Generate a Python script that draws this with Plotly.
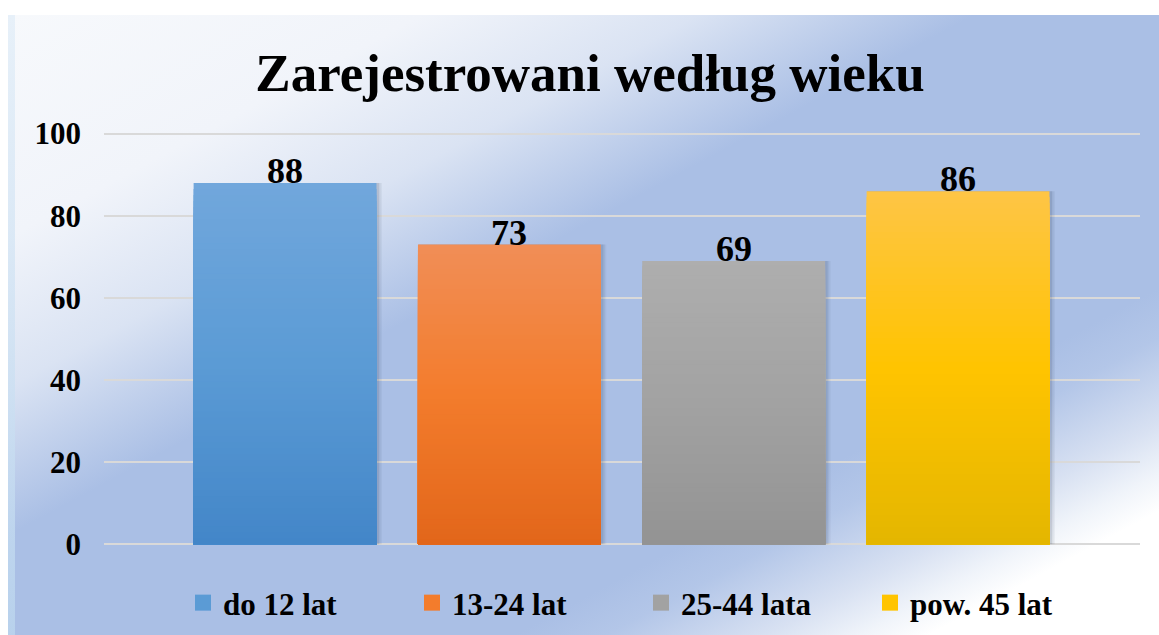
import base64
import plotly.graph_objects as go

# ---- data ----
categories = ["do 12 lat", "13-24 lat", "25-44 lata", "pow. 45 lat"]
values = [88, 73, 69, 86]
y_ticks = [0, 20, 40, 60, 80, 100]
title_text = "Zarejestrowani według wieku"

# per-bar vertical gradient: top, middle, bottom
top_colors = ["#71A7DC", "#F18E57", "#AEAEAE", "#FEC546"]
mid_colors = ["#5B9BD5", "#F37C2C", "#A2A2A2", "#FFC400"]
bottom_colors = ["#4386C8", "#E2661A", "#939393", "#E4B600"]

# ---- geometry ----
W, H = 1159, 635
Y_RANGE = [-0.4, 100.4]
M_L, M_R, M_T, M_B = 104, 19, 132, 89
PLOT_W = W - M_L - M_R
PLOT_H = H - M_T - M_B
BAR_W = 0.815
X_RANGE = [-0.807, 3.811]
PX = (X_RANGE[1] - X_RANGE[0]) / PLOT_W  # one pixel in category units

FONT = "Liberation Serif"
N_STEPS = 60


def hex_rgb(h):
    h = h.lstrip("#")
    return [int(h[i:i + 2], 16) for i in (0, 2, 4)]


def mix(c1, c2, t):
    a, b = hex_rgb(c1), hex_rgb(c2)
    return "rgb({},{},{})".format(*[round(a[i] + (b[i] - a[i]) * t) for i in range(3)])


def grad_color(i, frac):
    # frac = relative height inside the bar (0 bottom, 1 top)
    if frac >= 0.5:
        return mix(mid_colors[i], top_colors[i], (frac - 0.5) / 0.5)
    return mix(bottom_colors[i], mid_colors[i], frac / 0.5)


def py_to_paper(py):
    return (H - M_B - py) / PLOT_H


def px_to_paper(px):
    return (px - M_L) / PLOT_W


fig = go.Figure()

# soft shadow to the right of each bar
for s, a in [(5, 0.05), (3.5, 0.07), (2, 0.10)]:
    fig.add_trace(go.Bar(
        x=categories, y=values, width=BAR_W + s * PX,
        offset=-BAR_W / 2 + 0.5 * PX,
        marker=dict(color=f"rgba(40,50,80,{a})", line=dict(width=0)),
        showlegend=False, hoverinfo="skip",
    ))

# gradient bars: nested bars from 0, each shorter one drawn on top
for i, (cat, v) in enumerate(zip(categories, values)):
    ys, cols = [], []
    for k in range(N_STEPS):
        ys.append(v * (N_STEPS - k) / N_STEPS)
        cols.append(grad_color(i, (N_STEPS - k - 0.5) / N_STEPS))
    fig.add_trace(go.Bar(
        x=[cat] * len(ys), y=ys, width=BAR_W, name=cat,
        marker=dict(color=cols, line=dict(width=0)),
        hovertemplate=f"{cat}: {v}<extra></extra>",
        legendgroup=cat, showlegend=False,
    ))

# legend keys: square swatches in each series' middle colour
for i, cat in enumerate(categories):
    fig.add_trace(go.Scatter(
        x=[None], y=[None], mode="markers", name=cat, legendgroup=cat,
        marker=dict(symbol="square", size=16, color=mid_colors[i], line=dict(width=0)),
        hoverinfo="skip",
    ))

# value labels
for cat, v in zip(categories, values):
    fig.add_annotation(
        x=cat, y=v, text=str(v), showarrow=False, yanchor="bottom", yshift=-10,
        font=dict(family=FONT, size=36, color="black", weight="bold"),
    )

# background panel with diagonal gradient
stops = [
    (0.00, "#F7F9FC"), (0.18, "#F1F4FA"), (0.30, "#DAE3F3"), (0.42, "#AABFE5"),
    (0.72, "#AABFE5"), (0.76, "#B3C6E8"), (0.83, "#D8E1F2"), (0.87, "#F0F4FA"),
    (0.90, "#FFFFFF"), (1.00, "#FFFFFF"),
]
pw, ph = W - 8, H - 15
stop_xml = "".join(f"<stop offset='{o}' stop-color='{c}'/>" for o, c in stops)
svg = (
    f"<svg xmlns='http://www.w3.org/2000/svg' width='{pw}' height='{ph}' "
    f"viewBox='0 0 {pw} {ph}' preserveAspectRatio='none'>"
    f"<defs><linearGradient id='g' x1='0' y1='0' x2='1' y2='1'>{stop_xml}</linearGradient>"
    f"<linearGradient id='e' x1='0' y1='0' x2='0' y2='1'>"
    f"<stop offset='0' stop-color='#E3EEF8'/><stop offset='1' stop-color='#BCD6EE'/></linearGradient></defs>"
    f"<rect width='{pw}' height='{ph}' fill='url(#g)'/>"
    f"<rect x='0' y='0' width='7' height='{ph}' fill='url(#e)' opacity='0.8'/>"
    f"</svg>"
)
src = "data:image/svg+xml;base64," + base64.b64encode(svg.encode()).decode()
fig.add_layout_image(
    source=src, xref="paper", yref="paper",
    x=px_to_paper(8), y=py_to_paper(15),
    sizex=pw / PLOT_W, sizey=ph / PLOT_H,
    xanchor="left", yanchor="top", sizing="stretch", layer="below",
)

fig.update_layout(
    width=W, height=H,
    margin=dict(l=M_L, r=M_R, t=M_T, b=M_B, autoexpand=False),
    paper_bgcolor="white", plot_bgcolor="rgba(0,0,0,0)",
    barmode="overlay",
    title=dict(
        text=title_text, x=590 / W, xanchor="center", xref="container",
        y=1 - 72 / H, yanchor="middle", yref="container",
        font=dict(family=FONT, size=53, color="black", weight="bold"),
    ),
    xaxis=dict(
        type="category", range=X_RANGE, showticklabels=False,
        showgrid=False, zeroline=False, showline=False, fixedrange=True,
    ),
    yaxis=dict(
        range=Y_RANGE, tickvals=y_ticks, showgrid=True, gridcolor="#D9D9D9",
        gridwidth=2, zeroline=False, showline=False, ticks="",
        ticklabelstandoff=22,
        tickfont=dict(family=FONT, size=31, color="black", weight="bold"),
    ),
    legend=dict(
        orientation="h", x=px_to_paper(183), xanchor="left",
        y=py_to_paper(603), yanchor="middle", itemsizing="trace",
        font=dict(family=FONT, size=31, color="black", weight="bold"),
        bgcolor="rgba(0,0,0,0)", entrywidth=184, entrywidthmode="pixels",
    ),
    showlegend=True,
)

fig.write_html("out.html")
